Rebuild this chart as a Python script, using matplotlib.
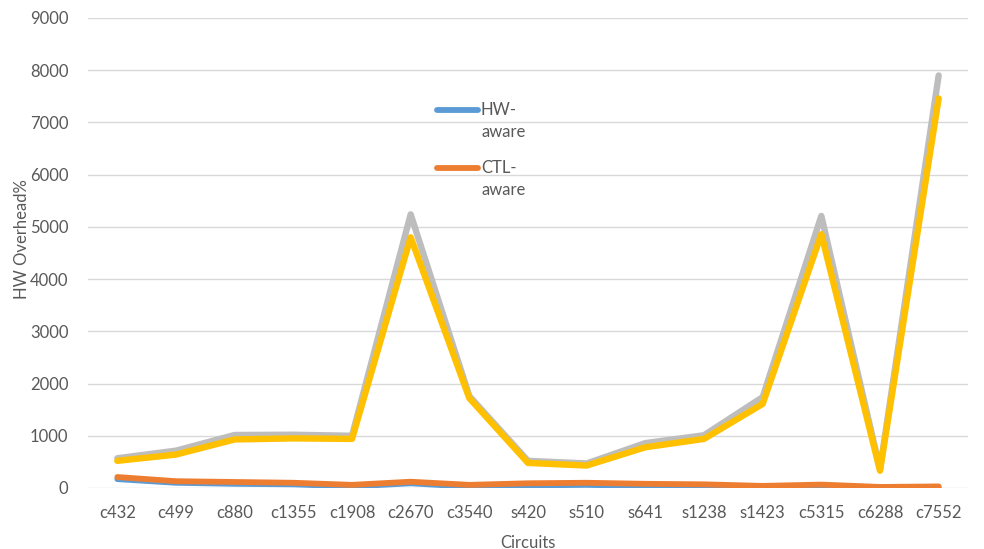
import matplotlib
matplotlib.use('Agg')
import matplotlib.pyplot as plt
from matplotlib.lines import Line2D
import numpy as np

circuits = ['c432', 'c499', 'c880', 'c1355', 'c1908', 'c2670', 'c3540', 's420',
            's510', 's641', 's1238', 's1423', 'c5315', 'c6288', 'c7552']
hw_aware = [170, 100, 80, 70, 30, 90, 25, 50, 60, 40, 30, 10, 30, 5, 10]
ctl_aware = [210, 130, 115, 100, 60, 120, 60, 90, 100, 80, 70, 40, 65, 20, 30]
series3 = [570, 715, 1015, 1020, 1000, 5240, 1760, 520, 470, 860, 1010, 1740, 5210, 360, 7900]
series4 = [520, 640, 930, 950, 940, 4800, 1720, 480, 430, 780, 940, 1610, 4860, 330, 7460]

plt.rcParams['font.family'] = ['Lato', 'DejaVu Sans']
grey_txt = '#595959'
fs = 12

fig = plt.figure(figsize=(9.84, 5.49), dpi=100)
ax = fig.add_axes([88/984, 1-488/549, 880/984, 470/549])

x = np.arange(len(circuits))
ax.plot(x, series3, color='#BDBDBD', lw=4.6, solid_capstyle='round', solid_joinstyle='round', zorder=3)
ax.plot(x, series4, color='#FFC000', lw=4.6, solid_capstyle='round', solid_joinstyle='round', zorder=4)
ax.plot(x, hw_aware, color='#5B9BD5', lw=4.2, solid_capstyle='round', solid_joinstyle='round', zorder=5)
ax.plot(x, ctl_aware, color='#ED7D31', lw=4.2, solid_capstyle='round', solid_joinstyle='round', zorder=6)

ax.set_xlim(-0.5, len(circuits) - 0.5)
ax.set_ylim(0, 9000)
ax.set_yticks(np.arange(0, 9001, 1000))
ax.set_xticks(x)
ax.set_xticklabels(circuits)
ax.grid(axis='y', color='#D9D9D9', lw=1)
ax.set_axisbelow(True)
for s in ['top', 'right', 'left', 'bottom']:
    ax.spines[s].set_visible(False)
ax.tick_params(length=0, labelsize=fs, labelcolor=grey_txt)
ax.tick_params(axis='y', pad=14)
ax.tick_params(axis='x', pad=12)
ax.set_ylabel('HW Overhead%', fontsize=fs, color=grey_txt)
ax.yaxis.set_label_coords(-0.066, 0.53)
ax.set_xlabel('Circuits', fontsize=fs, color=grey_txt, labelpad=10)

# legend drawn by hand so the wrapped labels sit below the swatch
for y0, col, name in [(110, '#5B9BD5', 'HW-'), (168, '#ED7D31', 'CTL-')]:
    fig.add_artist(Line2D([437/984, 478/984], [1-y0/549]*2, color=col, lw=4.2,
                          solid_capstyle='round'))
    fig.text(481/984, 1-y0/549, name, fontsize=fs, color=grey_txt, va='center')
    fig.text(481/984, 1-(y0+22)/549, 'aware', fontsize=fs, color=grey_txt, va='center')

fig.savefig('out.png', dpi=100)
